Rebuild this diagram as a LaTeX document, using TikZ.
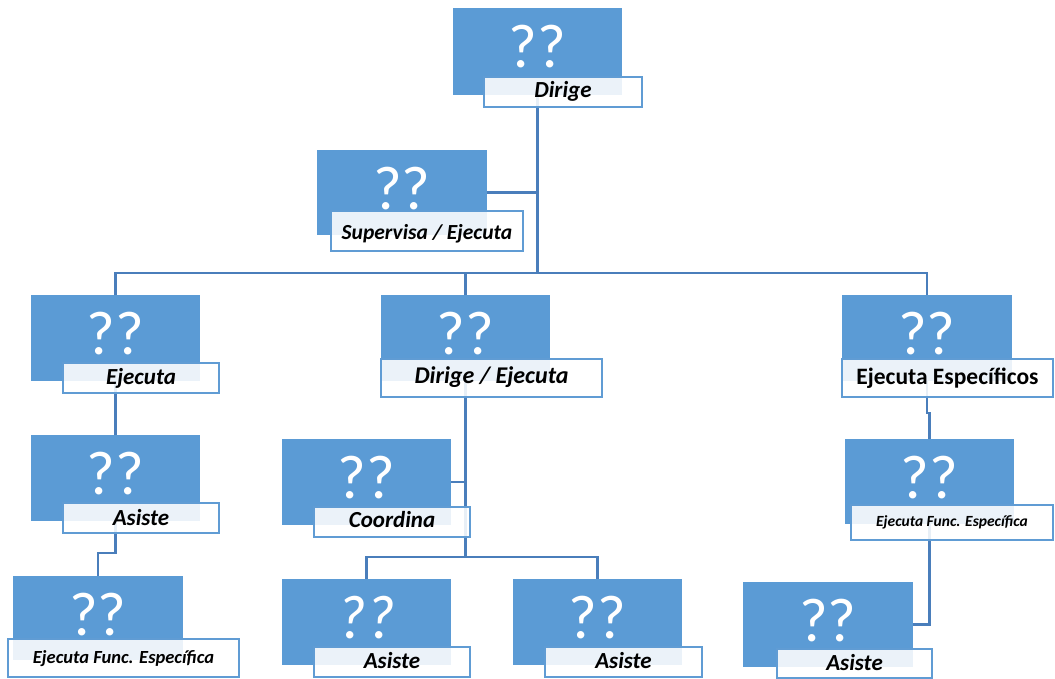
\documentclass[tikz,border=0pt]{standalone}
\usepackage{fontspec}
\setmainfont{Carlito}
\usetikzlibrary{calc}
\pgfdeclarelayer{bg}
\pgfsetlayers{bg,main}
\definecolor{boxblue}{RGB}{91,155,213}
\definecolor{lineblue}{RGB}{74,126,187}
\definecolor{lblborder}{RGB}{96,156,212}
\tikzset{
  bluebox/.style={draw=none, fill=boxblue, inner sep=0pt},
  qq/.style={text=white, font=\fontsize{62}{62}\selectfont, inner sep=0pt, anchor=center},
  lblbox/.style={draw=lblborder, line width=1.8pt, fill=white, fill opacity=0.88, inner sep=0pt},
  lbltext/.style={inner sep=0pt, anchor=base, font=\fontsize{23}{23}\selectfont\bfseries\itshape},
  conn/.style={draw=lineblue, line width=2.2pt}
}
\newcommand{\bbox}[5]{\node[bluebox, minimum width={#4-#2}, minimum height={#5-#3}] (#1) at ({(#2+#4)/2},{(#3+#5)/2}) {};}
% \lbox[textstyle]{name}{x1}{y1}{x2}{y2}{baseline}{text}
\newcommand{\lbox}[8][]{\node[lblbox, minimum width={#5-#3}, minimum height={#6-#4}] (#2) at ({(#3+#5)/2},{(#4+#6)/2}) {};
  \node[lbltext, #1] (t#2) at ({(#3+#5)/2},#7) {#8};}
\begin{document}
\begin{tikzpicture}[x=1pt,y=-1pt]
\useasboundingbox (0,0) rectangle (1055,679);
% blue boxes
\bbox{b1}{453}{8}{622}{95}
\bbox{b2}{317}{150}{487}{235}
\bbox{b3}{31}{295}{200}{381}
\bbox{b4}{381}{295}{550}{381}
\bbox{b5}{842}{295}{1012}{381}
\bbox{b6}{31}{435}{200}{521}
\bbox{b7}{282}{439}{451}{525}
\bbox{b8}{845}{439}{1014}{524}
\bbox{b9}{13}{576}{183}{660}
\bbox{b10}{282}{579}{451}{665}
\bbox{b11}{513}{579}{682}{665}
\bbox{b12}{743}{582}{913}{667}
% question marks
\foreach \b in {b1,b2,b3,b4,b5,b6,b7,b8,b9,b11,b12}{
  \node[qq] (q\b) at ($(\b.north)+(0,38.5)$) {??};
}
\node[qq, font=\fontsize{62}{62}\selectfont\itshape] (qb10) at ($(b10.north)+(0,38.5)$) {??};
% labels
\lbox{l1}{484}{77}{642}{107}{98}{Dirige}
\lbox[font=\fontsize{21.5}{21.5}\selectfont\bfseries\itshape]{l2}{331}{211}{523}{251}{240}{Supervisa / Ejecuta}
\lbox{l3}{63}{363}{219}{393}{384}{Ejecuta}
\lbox[font=\fontsize{24}{24}\selectfont\bfseries\itshape]{l4}{381}{359}{602}{397}{383}{Dirige / Ejecuta}
\lbox[font=\fontsize{23.5}{23.5}\selectfont\bfseries]{l5}{842}{359}{1053}{397}{384}{Ejecuta Específicos}
\lbox{l6}{63}{503}{219}{533}{525}{Asiste}
\lbox{l7}{314}{507}{470}{537}{527}{Coordina}
\lbox[font=\fontsize{15.5}{15.5}\selectfont\bfseries\itshape]{l8}{851}{505}{1053}{540}{526}{Ejecuta Func. Específica}
\lbox[font=\fontsize{18.5}{18.5}\selectfont\bfseries\itshape]{l9}{8}{639}{239}{677}{663}{Ejecuta Func. Específica}
\lbox{l10}{314}{647}{470}{677}{668}{Asiste}
\lbox{l11}{545}{647}{702}{677}{668}{Asiste}
\lbox{l12}{777}{649}{932}{678}{670}{Asiste}
% connectors
\coordinate (bus) at (0,273);
\coordinate (j1) at (0,553);
\coordinate (j2) at (0,557);
\coordinate (j3) at (0,413);
\begin{pgfonlayer}{bg}
\draw[conn] (b1.center) -- (b1.center |- bus);
\draw[conn] (b1.center |- b2.east) -- (b2.east);
\draw[conn] (b3.center) -- (b3.center |- bus) -- (b5.center |- bus) -- (b5.center);
\draw[conn] (b4.center) -- (b4.center |- bus);
\draw[conn] (b3.center) -- (b6.center);
\draw[conn] (b6.center) -- (b6.center |- j1) -- (b9.center |- j1) -- (b9.center);
\draw[conn] (b4.center) -- (b4.center |- j2);
\draw[conn] (b4.center |- b7.east) -- (b7.east);
\draw[conn] (b10.center) -- (b10.center |- j2) -- (b11.center |- j2) -- (b11.center);
\draw[conn] (b5.center) -- (b5.center |- j3) -- (b8.center |- j3) -- (b8.center);
\draw[conn] (b8.center) -- (b8.center |- b12.east) -- (b12.east);
\end{pgfonlayer}
\end{tikzpicture}
\end{document}
